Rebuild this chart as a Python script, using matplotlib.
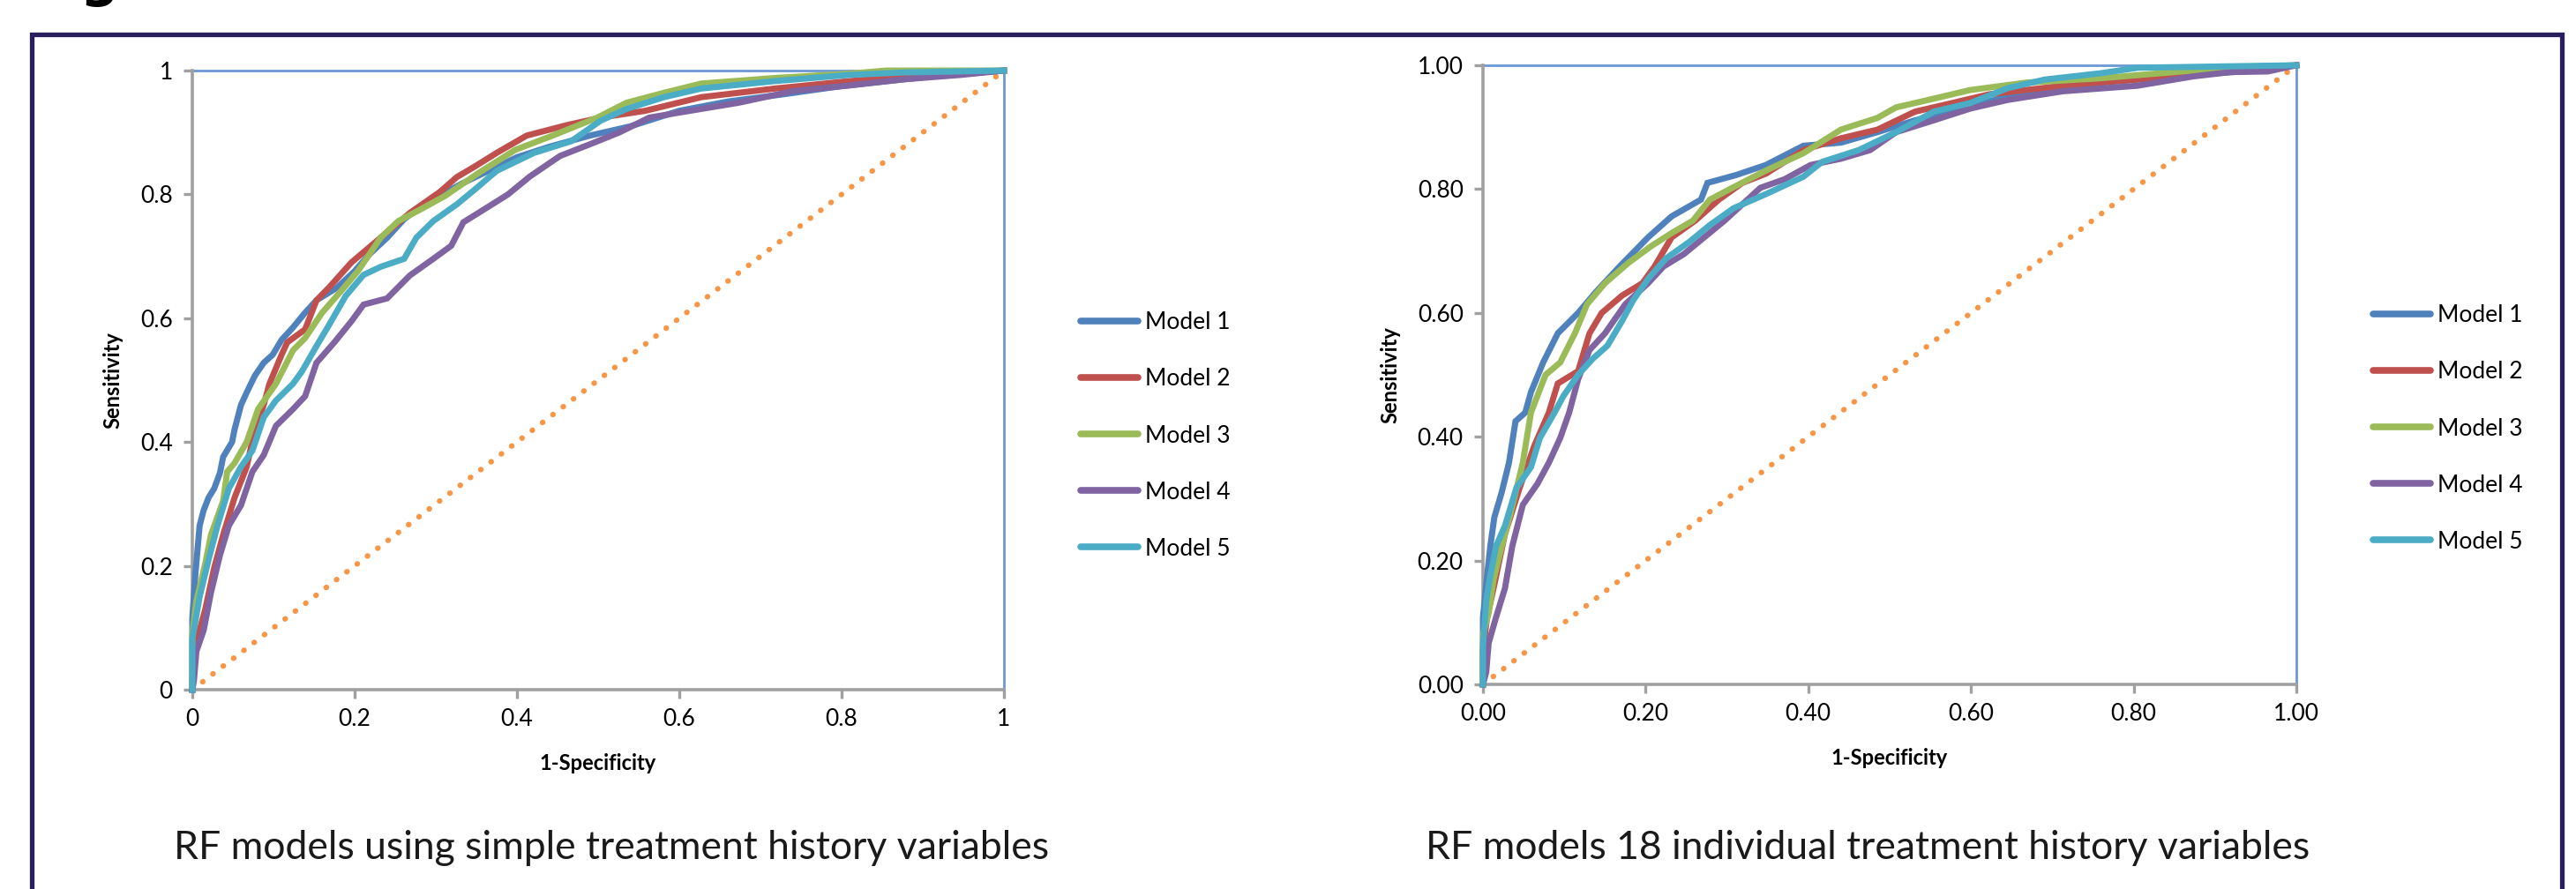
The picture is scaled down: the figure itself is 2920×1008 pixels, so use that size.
import matplotlib
matplotlib.use("Agg")
import matplotlib.pyplot as plt
from matplotlib.lines import Line2D

plt.rcParams['font.family'] = ['Lato', 'DejaVu Sans']

# ---------------- data ----------------
model_names = ["Model 1", "Model 2", "Model 3", "Model 4", "Model 5"]
colors = ["#4F81BD", "#C0504D", "#9BBB59", "#8064A2", "#4BACC6"]

# Left panel: RF models using simple treatment history variables
L1_x = [0, 0, 0.004, 0.009, 0.014, 0.02, 0.027, 0.034, 0.038, 0.049, 0.052, 0.06, 0.067, 0.077, 0.088, 0.099, 0.11, 0.124, 0.139, 0.153, 0.178, 0.2, 0.218, 0.24, 0.261, 0.286, 0.305, 0.333, 0.36, 0.40, 0.44, 0.49, 0.54, 0.60, 0.66, 0.73, 0.80, 0.87, 0.93, 1.0]
L1_y = [0, 0.116, 0.19, 0.265, 0.29, 0.31, 0.325, 0.35, 0.376, 0.40, 0.42, 0.46, 0.48, 0.507, 0.528, 0.541, 0.565, 0.585, 0.609, 0.629, 0.649, 0.676, 0.703, 0.73, 0.76, 0.784, 0.798, 0.818, 0.835, 0.86, 0.877, 0.895, 0.91, 0.935, 0.95, 0.962, 0.975, 0.985, 0.993, 1.0]
L2_x = [0, 0.002, 0.009, 0.016, 0.027, 0.038, 0.052, 0.067, 0.077, 0.088, 0.095, 0.11, 0.117, 0.139, 0.153, 0.168, 0.196, 0.214, 0.232, 0.268, 0.305, 0.326, 0.348, 0.375, 0.412, 0.462, 0.503, 0.558, 0.627, 0.718, 0.81, 0.90, 1.0]
L2_y = [0, 0.08, 0.096, 0.13, 0.197, 0.25, 0.31, 0.36, 0.42, 0.46, 0.494, 0.541, 0.561, 0.582, 0.629, 0.649, 0.69, 0.71, 0.73, 0.77, 0.804, 0.828, 0.845, 0.867, 0.895, 0.912, 0.924, 0.935, 0.957, 0.971, 0.983, 0.993, 1.0]
L3_x = [0, 0, 0.005, 0.016, 0.023, 0.038, 0.043, 0.052, 0.067, 0.081, 0.103, 0.124, 0.139, 0.16, 0.182, 0.204, 0.232, 0.254, 0.283, 0.312, 0.352, 0.398, 0.444, 0.499, 0.535, 0.581, 0.627, 0.718, 0.81, 0.855, 1.0]
L3_y = [0, 0.09, 0.143, 0.204, 0.25, 0.305, 0.352, 0.366, 0.40, 0.453, 0.494, 0.548, 0.568, 0.609, 0.642, 0.676, 0.73, 0.757, 0.777, 0.798, 0.834, 0.872, 0.895, 0.924, 0.948, 0.964, 0.979, 0.988, 0.995, 1.0, 1.0]
L4_x = [0, 0.002, 0.005, 0.014, 0.023, 0.034, 0.045, 0.06, 0.074, 0.088, 0.103, 0.124, 0.139, 0.153, 0.175, 0.196, 0.211, 0.24, 0.268, 0.297, 0.319, 0.334, 0.361, 0.389, 0.416, 0.453, 0.49, 0.526, 0.563, 0.604, 0.673, 0.741, 0.81, 0.878, 0.947, 1.0]
L4_y = [0, 0.015, 0.062, 0.096, 0.157, 0.217, 0.265, 0.298, 0.352, 0.379, 0.426, 0.453, 0.474, 0.528, 0.561, 0.595, 0.622, 0.632, 0.669, 0.696, 0.717, 0.755, 0.777, 0.80, 0.829, 0.862, 0.881, 0.90, 0.924, 0.933, 0.948, 0.967, 0.976, 0.986, 0.993, 1.0]
L5_x = [0, 0, 0.009, 0.02, 0.031, 0.045, 0.06, 0.074, 0.088, 0.103, 0.124, 0.135, 0.153, 0.168, 0.189, 0.211, 0.232, 0.261, 0.276, 0.297, 0.326, 0.35, 0.375, 0.421, 0.467, 0.503, 0.535, 0.581, 0.627, 0.718, 0.81, 0.878, 1.0]
L5_y = [0, 0.082, 0.15, 0.21, 0.265, 0.325, 0.36, 0.386, 0.44, 0.467, 0.494, 0.514, 0.555, 0.588, 0.636, 0.67, 0.683, 0.696, 0.73, 0.757, 0.784, 0.81, 0.838, 0.867, 0.886, 0.919, 0.938, 0.957, 0.971, 0.983, 0.993, 0.997, 1.0]

# Right panel: RF models 18 individual treatment history variables
R1_x = [0, 0, 0.004, 0.009, 0.014, 0.023, 0.032, 0.04, 0.052, 0.059, 0.074, 0.092, 0.117, 0.139, 0.168, 0.203, 0.232, 0.268, 0.276, 0.312, 0.348, 0.394, 0.44, 0.485, 0.531, 0.577, 0.668, 0.759, 0.85, 0.942, 1.0]
R1_y = [0, 0.108, 0.162, 0.223, 0.27, 0.31, 0.358, 0.425, 0.439, 0.472, 0.52, 0.567, 0.60, 0.634, 0.675, 0.722, 0.756, 0.783, 0.81, 0.823, 0.839, 0.87, 0.875, 0.892, 0.911, 0.925, 0.958, 0.972, 0.982, 0.991, 1.0]
R2_x = [0, 0, 0.005, 0.013, 0.027, 0.045, 0.063, 0.081, 0.092, 0.117, 0.131, 0.146, 0.171, 0.196, 0.211, 0.232, 0.261, 0.29, 0.319, 0.348, 0.394, 0.44, 0.485, 0.531, 0.577, 0.622, 0.713, 0.805, 0.896, 1.0]
R2_y = [0, 0.054, 0.108, 0.155, 0.243, 0.317, 0.385, 0.439, 0.486, 0.506, 0.567, 0.60, 0.628, 0.648, 0.675, 0.722, 0.749, 0.783, 0.81, 0.825, 0.863, 0.882, 0.896, 0.925, 0.939, 0.953, 0.967, 0.977, 0.991, 1.0]
R3_x = [0, 0, 0.007, 0.013, 0.023, 0.034, 0.049, 0.059, 0.077, 0.095, 0.113, 0.128, 0.15, 0.179, 0.207, 0.232, 0.258, 0.279, 0.308, 0.348, 0.394, 0.44, 0.485, 0.508, 0.554, 0.599, 0.668, 0.759, 0.85, 0.919, 1.0]
R3_y = [0, 0.081, 0.115, 0.169, 0.223, 0.277, 0.358, 0.439, 0.50, 0.52, 0.567, 0.614, 0.648, 0.681, 0.708, 0.729, 0.749, 0.783, 0.803, 0.83, 0.858, 0.896, 0.915, 0.932, 0.946, 0.96, 0.972, 0.979, 0.989, 0.996, 1.0]
R4_x = [0, 0.004, 0.007, 0.016, 0.027, 0.036, 0.049, 0.067, 0.081, 0.095, 0.106, 0.117, 0.131, 0.15, 0.175, 0.203, 0.222, 0.247, 0.272, 0.297, 0.341, 0.371, 0.403, 0.44, 0.476, 0.508, 0.554, 0.599, 0.645, 0.713, 0.805, 0.873, 0.919, 0.965, 1.0]
R4_y = [0, 0.02, 0.067, 0.108, 0.155, 0.223, 0.29, 0.324, 0.358, 0.398, 0.439, 0.493, 0.54, 0.567, 0.614, 0.648, 0.675, 0.695, 0.722, 0.749, 0.802, 0.816, 0.839, 0.849, 0.863, 0.892, 0.911, 0.93, 0.944, 0.958, 0.967, 0.982, 0.989, 0.99, 1.0]
R5_x = [0, 0, 0.004, 0.009, 0.016, 0.027, 0.041, 0.059, 0.07, 0.088, 0.099, 0.117, 0.135, 0.153, 0.171, 0.185, 0.203, 0.225, 0.254, 0.279, 0.308, 0.348, 0.394, 0.417, 0.462, 0.508, 0.554, 0.599, 0.645, 0.691, 0.759, 0.805, 1.0]
R5_y = [0, 0.061, 0.135, 0.175, 0.223, 0.256, 0.317, 0.351, 0.398, 0.439, 0.466, 0.50, 0.526, 0.547, 0.587, 0.621, 0.655, 0.688, 0.715, 0.742, 0.769, 0.792, 0.82, 0.844, 0.863, 0.892, 0.925, 0.939, 0.963, 0.977, 0.987, 0.996, 1.0]

left_curves = [(L1_x, L1_y), (L2_x, L2_y), (L3_x, L3_y), (L4_x, L4_y), (L5_x, L5_y)]
right_curves = [(R1_x, R1_y), (R2_x, R2_y), (R3_x, R3_y), (R4_x, R4_y), (R5_x, R5_y)]

ref_x = [0, 1]
ref_y = [0, 1]
perfect_x = [0, 1, 1]
perfect_y = [1, 1, 0]

left_ticks = [0, 0.2, 0.4, 0.6, 0.8, 1.0]
left_ticklabels = ["0", "0.2", "0.4", "0.6", "0.8", "1"]
right_ticklabels = ["0.00", "0.20", "0.40", "0.60", "0.80", "1.00"]

subtitles = ["RF models using simple treatment history variables",
             "RF models 18 individual treatment history variables"]

# ---------------- figure ----------------
W, H = 2920, 1008
fig = plt.figure(figsize=(W / 100, H / 100), dpi=100)
fig.patch.set_facecolor("white")

def fx(px):
    return px / W

def fy(py):
    return 1 - py / H

# outer navy frame (left, top, right)
frame_color = "#2A1E5C"
fig.add_artist(Line2D([fx(36), fx(36), fx(2904), fx(2904)],
                      [fy(1015), fy(39), fy(39), fy(1015)],
                      transform=fig.transFigure, color=frame_color, lw=3.8,
                      solid_joinstyle="miter"))

# clipped heading letter at very top-left
fig.text(fx(90), fy(-5), "g", fontsize=44, fontweight="bold", color="black",
         ha="left", va="baseline", family="DejaVu Sans")

gray = "#A0A0A0"

def make_panel(rect, curves, ticklabels, legend_anchor, subtitle, sub_x):
    ax = fig.add_axes(rect)
    ax.set_xlim(0, 1)
    ax.set_ylim(0, 1)
    for s in ["top", "right"]:
        ax.spines[s].set_visible(False)
    for s in ["left", "bottom"]:
        ax.spines[s].set_color(gray)
        ax.spines[s].set_linewidth(2.6)
    ax.set_xticks(left_ticks)
    ax.set_yticks(left_ticks)
    ax.set_xticklabels(ticklabels)
    ax.set_yticklabels(ticklabels)
    ax.tick_params(axis="both", direction="out", length=7, width=2.4,
                   color=gray, labelsize=19, labelcolor="black")
    ax.tick_params(axis="x", pad=8)
    ax.tick_params(axis="y", pad=9)
    ax.set_xlabel("1-Specificity", fontsize=17, fontweight="bold", labelpad=19)
    ax.set_ylabel("Sensitivity", fontsize=17, fontweight="bold", labelpad=14)

    # perfect classifier border line
    ax.plot(perfect_x, perfect_y, color="#6C98D4", lw=2.0, clip_on=False, zorder=2)
    # diagonal reference
    ax.plot(ref_x, ref_y, color="#F79646", lw=4.5, linestyle=(0, (0.05, 2.3)),
            dash_capstyle="round", clip_on=False, zorder=2)

    for (x, y), c, name in zip(curves, colors, model_names):
        ax.plot(x, y, color=c, lw=5.0, solid_joinstyle="miter",
                clip_on=False, zorder=3, label=name)

    leg_handles = [Line2D([0], [0], color=c, lw=5.5, solid_capstyle="round")
                   for c in colors]
    fig.legend(leg_handles, model_names, loc="center left",
               bbox_to_anchor=legend_anchor, bbox_transform=fig.transFigure,
               frameon=False, fontsize=19, handlelength=2.45, handletextpad=0.3,
               labelspacing=1.48, borderpad=0, borderaxespad=0)

    fig.text(sub_x, fy(961), subtitle, fontsize=32, ha="center", va="center",
             color="#1a1a1a")
    return ax

axL = make_panel([fx(218), fy(782), fx(920), 702 / H], left_curves,
                 left_ticklabels, (fx(1225), fy(494)), subtitles[0], fx(693))
axR = make_panel([fx(1681), fy(776), fx(922), 702 / H], right_curves,
                 right_ticklabels, (fx(2690), fy(486)), subtitles[1], fx(2117))

fig.savefig("out.png", dpi=100, facecolor="white")
